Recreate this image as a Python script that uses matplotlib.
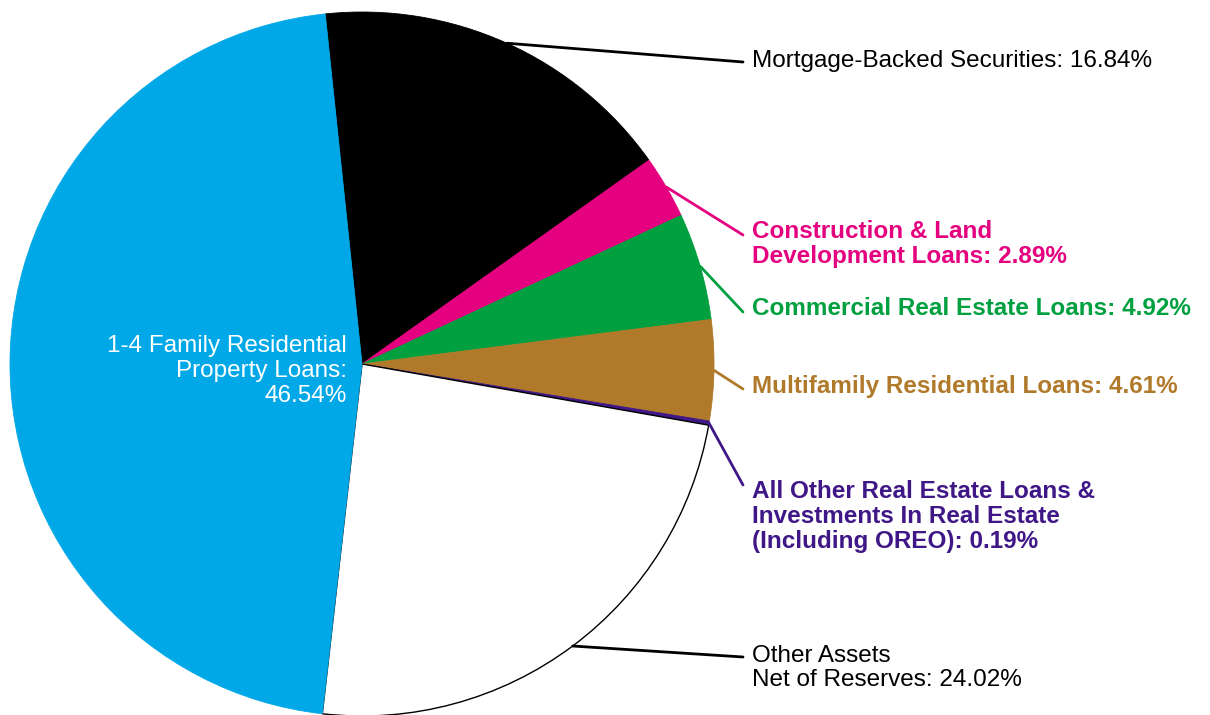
import matplotlib.pyplot as plt
import numpy as np

plt.rcParams["font.family"] = ["Liberation Sans", "DejaVu Sans"]

categories = [
    "Mortgage-Backed Securities",
    "Construction & Land\nDevelopment Loans",
    "Commercial Real Estate Loans",
    "Multifamily Residential Loans",
    "All Other Real Estate Loans &\nInvestments In Real Estate\n(Including OREO)",
    "Other Assets\nNet of Reserves",
    "1-4 Family Residential\nProperty Loans:\n",
]
shares = [16.84, 2.89, 4.92, 4.61, 0.19, 24.02, 46.54]
colors = ["#000000", "#E4007F", "#00A040", "#B07A2A", "#3F1787", "#FFFFFF", "#00A8E8"]
label_colors = ["#000000", "#E4007F", "#00A040", "#B07A2A", "#3F1787", "#000000"]
label_bold = [False, True, True, True, True, False]

# leader end y and first baseline y, in pixels from the top
leader_y = [62, 235, 312, 389, 485, 657]
baseline_y = [67, 238, 315, 393, 498, 662]
LINE = 25

W, H = 1210, 715
FS = 17.5
fig = plt.figure(figsize=(W / 100, H / 100), dpi=100)
ax = fig.add_axes([10 / W, (H - 716) / H, 704 / W, 704 / H])


def put_lines(x, y0, text, step=LINE, **kw):
    # one text per line so the first baseline sits exactly at y0
    for k, line in enumerate(text.split("\n")):
        fig.text(x / W, (H - y0 - k * step) / H, line, va="baseline",
                 fontsize=FS, **kw)


start = 96
wedges, _ = ax.pie(shares, colors=colors, startangle=start, counterclock=False,
                   radius=1, wedgeprops=dict(linewidth=0.6))
ax.set_xlim(-1, 1)
ax.set_ylim(-1, 1)
ax.set_aspect("equal")
ax.axis("off")

for w, c in zip(wedges, colors):
    w.set_edgecolor("#000000" if c == "#FFFFFF" else c)
wedges[5].set_linewidth(1.0)

for i, w in enumerate(wedges[:6]):
    mid = np.deg2rad((w.theta1 + w.theta2) / 2)
    edge = (np.cos(mid), np.sin(mid))
    ax.annotate("", xy=edge, xycoords="data",
                xytext=(743, H - leader_y[i]), textcoords="figure pixels",
                arrowprops=dict(arrowstyle="-", color=label_colors[i], lw=2.0,
                                shrinkA=0, shrinkB=0))
    put_lines(752, baseline_y[i], f"{categories[i]}: {shares[i]:.2f}%",
              step=24 if i == 5 else LINE, ha="left", color=label_colors[i],
              fontweight="bold" if label_bold[i] else "normal")

put_lines(347, 352, f"{categories[6]}{shares[6]:.2f}%", ha="right", color="white")

fig.savefig("out.png", dpi=100)
